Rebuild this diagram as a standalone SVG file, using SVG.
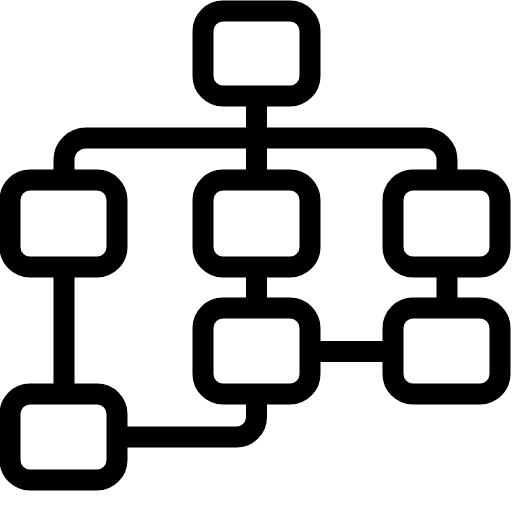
<svg xmlns="http://www.w3.org/2000/svg" width="512" height="512" viewBox="0 0 512 512">
<style>
.n{fill:none;stroke:#000;stroke-width:21}
.c{fill:none;stroke:#000;stroke-width:21}
</style>
<rect width="512" height="512" fill="#fff"/>
<g id="connectors">
<path class="c" d="M64,180 V160 A22,22 0 0 1 86,138 H425 A22,22 0 0 1 447,160 V180"/>
<path class="c" d="M256.5,96 V180"/>
<path class="c" d="M256.5,267 V308"/>
<path class="c" d="M64,267 V394"/>
<path class="c" d="M447,267 V308"/>
<path class="c" d="M310,351.5 H393"/>
<path class="c" d="M256.5,394 V417 A20,20 0 0 1 236.5,437 H117"/>
</g>
<g id="top"><rect class="n" x="203" y="11" width="107" height="85" rx="20"/></g>
<g id="left1"><rect class="n" x="10" y="180" width="107" height="87" rx="20"/></g>
<g id="mid1"><rect class="n" x="203" y="180" width="107" height="87" rx="20"/></g>
<g id="right1"><rect class="n" x="393" y="180" width="107" height="87" rx="20"/></g>
<g id="mid2"><rect class="n" x="203" y="308" width="107" height="86" rx="20"/></g>
<g id="right2"><rect class="n" x="393" y="308" width="107" height="86" rx="20"/></g>
<g id="left2"><rect class="n" x="10" y="394" width="107" height="86" rx="20"/></g>
</svg>
